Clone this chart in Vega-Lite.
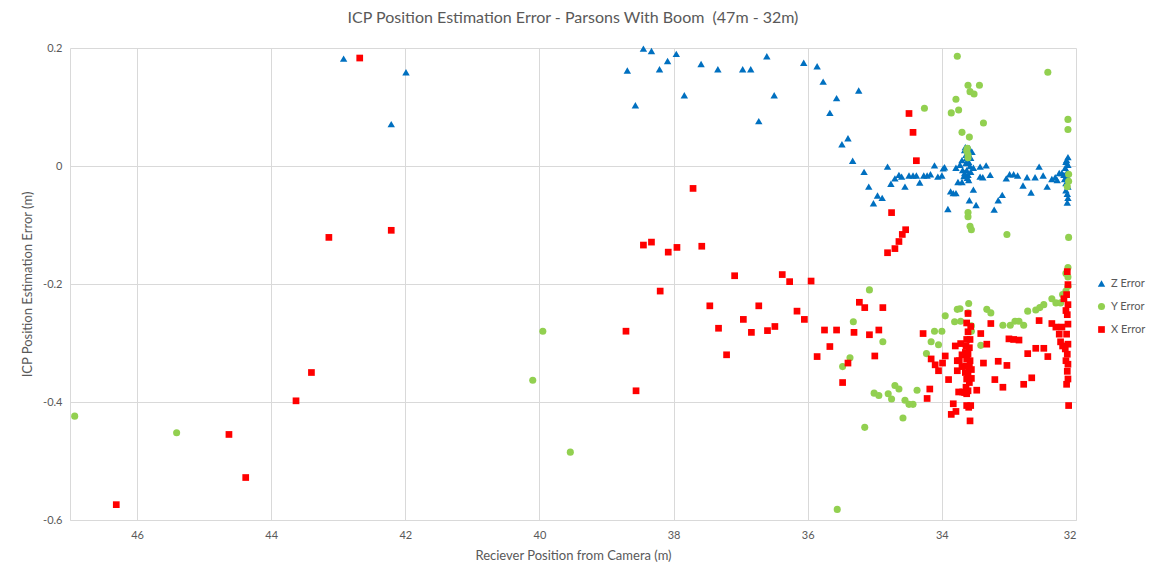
{
"$schema": "https://vega.github.io/schema/vega-lite/v6.json",
"width": 1006, "height": 472,
"autosize": "none",
"padding": {"left": 70, "top": 48, "right": 77, "bottom": 57},
"background": "white",
"config": {"view": {"stroke": null}, "font": "Lato"},
"title": {"text": "ICP Position Estimation Error - Parsons With Boom \u00a0(47m - 32m)", "font": "Lato", "fontSize": 16, "fontWeight": "normal", "color": "#595959", "anchor": "middle", "offset": 16},
"data": {"values": [
{"series":"Z Error","x":42.92,"y":0.182},{"series":"Z Error","x":41.99,"y":0.159},{"series":"Z Error","x":42.21,"y":0.071},
{"series":"Z Error","x":38.69,"y":0.162},{"series":"Z Error","x":38.57,"y":0.103},{"series":"Z Error","x":38.45,"y":0.199},
{"series":"Z Error","x":38.33,"y":0.195},{"series":"Z Error","x":38.21,"y":0.164},{"series":"Z Error","x":38.09,"y":0.178},
{"series":"Z Error","x":37.96,"y":0.19},{"series":"Z Error","x":37.84,"y":0.12},{"series":"Z Error","x":37.59,"y":0.173},
{"series":"Z Error","x":37.34,"y":0.164},{"series":"Z Error","x":36.97,"y":0.164},{"series":"Z Error","x":36.85,"y":0.164},
{"series":"Z Error","x":36.73,"y":0.076},{"series":"Z Error","x":36.61,"y":0.186},{"series":"Z Error","x":36.5,"y":0.12},
{"series":"Z Error","x":36.06,"y":0.175},{"series":"Z Error","x":35.86,"y":0.169},{"series":"Z Error","x":35.77,"y":0.143},
{"series":"Z Error","x":35.57,"y":0.115},{"series":"Z Error","x":35.67,"y":0.09},{"series":"Z Error","x":35.24,"y":0.128},
{"series":"Z Error","x":35.4,"y":0.047},{"series":"Z Error","x":35.49,"y":0.037},{"series":"Z Error","x":35.33,"y":0.009},
{"series":"Z Error","x":35.16,"y":-0.01},{"series":"Z Error","x":35.09,"y":-0.035},{"series":"Z Error","x":34.96,"y":-0.05},
{"series":"Z Error","x":34.89,"y":-0.054},{"series":"Z Error","x":35.02,"y":-0.063},{"series":"Z Error","x":34.81,"y":-0.001},
{"series":"Z Error","x":34.76,"y":-0.03},{"series":"Z Error","x":34.7,"y":-0.021},{"series":"Z Error","x":34.64,"y":-0.015},
{"series":"Z Error","x":34.6,"y":-0.018},{"series":"Z Error","x":34.55,"y":-0.035},{"series":"Z Error","x":34.49,"y":-0.016},
{"series":"Z Error","x":34.43,"y":-0.016},{"series":"Z Error","x":34.38,"y":-0.016},{"series":"Z Error","x":34.33,"y":-0.028},
{"series":"Z Error","x":34.27,"y":-0.016},{"series":"Z Error","x":34.22,"y":-0.016},{"series":"Z Error","x":34.17,"y":-0.014},
{"series":"Z Error","x":34.11,"y":0.001},{"series":"Z Error","x":34.06,"y":-0.018},{"series":"Z Error","x":34.0,"y":-0.016},
{"series":"Z Error","x":33.98,"y":-0.004},{"series":"Z Error","x":33.96,"y":-0.002},{"series":"Z Error","x":33.91,"y":-0.073},
{"series":"Z Error","x":33.87,"y":-0.043},{"series":"Z Error","x":33.83,"y":-0.046},{"series":"Z Error","x":33.79,"y":-0.046},
{"series":"Z Error","x":33.79,"y":-0.003},{"series":"Z Error","x":33.73,"y":0.002},{"series":"Z Error","x":33.7,"y":0.01},
{"series":"Z Error","x":33.69,"y":-0.007},{"series":"Z Error","x":33.67,"y":-0.017},{"series":"Z Error","x":33.66,"y":0.027},
{"series":"Z Error","x":33.64,"y":0.019},{"series":"Z Error","x":33.64,"y":0.005},{"series":"Z Error","x":33.63,"y":0.014},
{"series":"Z Error","x":33.63,"y":-0.007},{"series":"Z Error","x":33.61,"y":0.022},{"series":"Z Error","x":33.61,"y":-0.015},
{"series":"Z Error","x":33.6,"y":0.007},{"series":"Z Error","x":33.6,"y":-0.024},{"series":"Z Error","x":33.58,"y":0.0},
{"series":"Z Error","x":33.57,"y":0.014},{"series":"Z Error","x":33.57,"y":-0.01},{"series":"Z Error","x":33.55,"y":0.024},
{"series":"Z Error","x":33.76,"y":-0.027},{"series":"Z Error","x":33.7,"y":-0.027},{"series":"Z Error","x":33.53,"y":-0.003},
{"series":"Z Error","x":33.65,"y":0.032},{"series":"Z Error","x":33.62,"y":-0.02},{"series":"Z Error","x":33.59,"y":0.03},
{"series":"Z Error","x":33.66,"y":-0.012},{"series":"Z Error","x":33.59,"y":-0.058},{"series":"Z Error","x":33.53,"y":-0.04},
{"series":"Z Error","x":33.49,"y":-0.066},{"series":"Z Error","x":33.43,"y":-0.001},{"series":"Z Error","x":33.43,"y":-0.018},
{"series":"Z Error","x":33.34,"y":0.001},{"series":"Z Error","x":33.39,"y":-0.019},{"series":"Z Error","x":33.28,"y":-0.015},
{"series":"Z Error","x":33.22,"y":-0.074},{"series":"Z Error","x":33.16,"y":-0.058},{"series":"Z Error","x":33.1,"y":-0.049},
{"series":"Z Error","x":33.04,"y":-0.021},{"series":"Z Error","x":32.99,"y":-0.014},{"series":"Z Error","x":32.93,"y":-0.014},
{"series":"Z Error","x":32.87,"y":-0.016},{"series":"Z Error","x":32.79,"y":-0.033},{"series":"Z Error","x":32.73,"y":-0.019},
{"series":"Z Error","x":32.67,"y":-0.045},{"series":"Z Error","x":32.61,"y":-0.019},{"series":"Z Error","x":32.55,"y":-0.001},
{"series":"Z Error","x":32.49,"y":-0.016},{"series":"Z Error","x":32.43,"y":-0.035},{"series":"Z Error","x":32.36,"y":-0.022},
{"series":"Z Error","x":32.31,"y":-0.019},{"series":"Z Error","x":32.25,"y":-0.012},{"series":"Z Error","x":32.12,"y":0.015},
{"series":"Z Error","x":32.15,"y":0.007},{"series":"Z Error","x":32.12,"y":0.002},{"series":"Z Error","x":32.16,"y":-0.003},
{"series":"Z Error","x":32.13,"y":-0.01},{"series":"Z Error","x":32.18,"y":-0.015},{"series":"Z Error","x":32.12,"y":-0.02},
{"series":"Z Error","x":32.15,"y":-0.029},{"series":"Z Error","x":32.12,"y":-0.035},{"series":"Z Error","x":32.15,"y":-0.041},
{"series":"Z Error","x":32.13,"y":-0.047},{"series":"Z Error","x":32.12,"y":-0.054},{"series":"Z Error","x":32.13,"y":-0.062},
{"series":"Z Error","x":32.21,"y":-0.012},{"series":"Z Error","x":32.28,"y":-0.024},{"series":"Z Error","x":32.14,"y":0.01},
{"series":"Z Error","x":32.17,"y":-0.022},
{"series":"Y Error","x":46.93,"y":-0.424},{"series":"Y Error","x":45.41,"y":-0.452},{"series":"Y Error","x":40.1,"y":-0.363},
{"series":"Y Error","x":39.95,"y":-0.28},{"series":"Y Error","x":39.54,"y":-0.485},{"series":"Y Error","x":35.56,"y":-0.582},
{"series":"Y Error","x":35.15,"y":-0.443},{"series":"Y Error","x":35.08,"y":-0.21},{"series":"Y Error","x":35.32,"y":-0.264},
{"series":"Y Error","x":34.88,"y":-0.298},{"series":"Y Error","x":35.37,"y":-0.325},{"series":"Y Error","x":35.48,"y":-0.34},
{"series":"Y Error","x":34.7,"y":-0.372},{"series":"Y Error","x":34.64,"y":-0.378},{"series":"Y Error","x":35.01,"y":-0.385},
{"series":"Y Error","x":34.94,"y":-0.389},{"series":"Y Error","x":34.8,"y":-0.386},{"series":"Y Error","x":34.75,"y":-0.395},
{"series":"Y Error","x":34.55,"y":-0.397},{"series":"Y Error","x":34.49,"y":-0.404},{"series":"Y Error","x":34.43,"y":-0.404},
{"series":"Y Error","x":34.37,"y":-0.38},{"series":"Y Error","x":34.58,"y":-0.427},{"series":"Y Error","x":34.23,"y":-0.318},
{"series":"Y Error","x":34.16,"y":-0.298},{"series":"Y Error","x":34.05,"y":-0.303},{"series":"Y Error","x":34.11,"y":-0.28},
{"series":"Y Error","x":34.0,"y":-0.28},{"series":"Y Error","x":33.95,"y":-0.254},{"series":"Y Error","x":33.81,"y":-0.264},
{"series":"Y Error","x":33.72,"y":-0.263},{"series":"Y Error","x":33.77,"y":-0.243},{"series":"Y Error","x":33.73,"y":-0.242},
{"series":"Y Error","x":33.6,"y":-0.233},{"series":"Y Error","x":33.61,"y":-0.249},{"series":"Y Error","x":33.56,"y":-0.271},
{"series":"Y Error","x":33.56,"y":-0.28},{"series":"Y Error","x":33.42,"y":-0.304},{"series":"Y Error","x":33.33,"y":-0.243},
{"series":"Y Error","x":33.27,"y":-0.249},{"series":"Y Error","x":33.09,"y":-0.27},{"series":"Y Error","x":32.98,"y":-0.27},
{"series":"Y Error","x":32.91,"y":-0.263},{"series":"Y Error","x":32.85,"y":-0.263},{"series":"Y Error","x":32.78,"y":-0.27},
{"series":"Y Error","x":32.72,"y":-0.246},{"series":"Y Error","x":32.6,"y":-0.244},{"series":"Y Error","x":32.54,"y":-0.24},
{"series":"Y Error","x":32.48,"y":-0.235},{"series":"Y Error","x":32.36,"y":-0.225},{"series":"Y Error","x":32.3,"y":-0.232},
{"series":"Y Error","x":32.23,"y":-0.232},{"series":"Y Error","x":32.2,"y":-0.218},{"series":"Y Error","x":32.15,"y":-0.212},
{"series":"Y Error","x":32.12,"y":-0.172},{"series":"Y Error","x":32.12,"y":-0.188},{"series":"Y Error","x":32.12,"y":-0.204},
{"series":"Y Error","x":32.15,"y":-0.182},{"series":"Y Error","x":33.77,"y":0.186},{"series":"Y Error","x":32.42,"y":0.159},
{"series":"Y Error","x":33.61,"y":0.137},{"series":"Y Error","x":33.44,"y":0.137},{"series":"Y Error","x":33.58,"y":0.126},
{"series":"Y Error","x":33.52,"y":0.122},{"series":"Y Error","x":33.79,"y":0.113},{"series":"Y Error","x":33.86,"y":0.09},
{"series":"Y Error","x":33.75,"y":0.095},{"series":"Y Error","x":34.26,"y":0.098},{"series":"Y Error","x":33.38,"y":0.073},
{"series":"Y Error","x":33.7,"y":0.057},{"series":"Y Error","x":33.59,"y":0.049},{"series":"Y Error","x":32.12,"y":0.079},
{"series":"Y Error","x":32.12,"y":0.062},{"series":"Y Error","x":33.63,"y":0.026},{"series":"Y Error","x":33.61,"y":0.019},
{"series":"Y Error","x":33.61,"y":0.014},{"series":"Y Error","x":33.62,"y":0.03},{"series":"Y Error","x":32.11,"y":-0.014},
{"series":"Y Error","x":32.11,"y":-0.026},{"series":"Y Error","x":32.13,"y":-0.035},{"series":"Y Error","x":33.61,"y":-0.079},
{"series":"Y Error","x":33.61,"y":-0.086},{"series":"Y Error","x":33.58,"y":-0.102},{"series":"Y Error","x":33.56,"y":-0.108},
{"series":"Y Error","x":33.03,"y":-0.116},{"series":"Y Error","x":32.11,"y":-0.121},
{"series":"X Error","x":46.31,"y":-0.574},{"series":"X Error","x":44.63,"y":-0.455},{"series":"X Error","x":44.38,"y":-0.528},
{"series":"X Error","x":43.63,"y":-0.398},{"series":"X Error","x":43.4,"y":-0.35},{"series":"X Error","x":43.14,"y":-0.121},
{"series":"X Error","x":42.21,"y":-0.109},{"series":"X Error","x":42.68,"y":0.183},{"series":"X Error","x":38.71,"y":-0.28},
{"series":"X Error","x":38.56,"y":-0.381},{"series":"X Error","x":38.45,"y":-0.134},{"series":"X Error","x":38.33,"y":-0.129},
{"series":"X Error","x":38.08,"y":-0.146},{"series":"X Error","x":37.95,"y":-0.138},{"series":"X Error","x":37.58,"y":-0.136},
{"series":"X Error","x":38.2,"y":-0.212},{"series":"X Error","x":37.71,"y":-0.038},{"series":"X Error","x":37.09,"y":-0.186},
{"series":"X Error","x":36.38,"y":-0.184},{"series":"X Error","x":36.27,"y":-0.196},{"series":"X Error","x":35.95,"y":-0.195},
{"series":"X Error","x":37.46,"y":-0.237},{"series":"X Error","x":36.73,"y":-0.237},{"series":"X Error","x":36.16,"y":-0.246},
{"series":"X Error","x":36.05,"y":-0.26},{"series":"X Error","x":36.96,"y":-0.26},{"series":"X Error","x":37.33,"y":-0.275},
{"series":"X Error","x":36.84,"y":-0.282},{"series":"X Error","x":36.6,"y":-0.279},{"series":"X Error","x":36.49,"y":-0.272},
{"series":"X Error","x":35.75,"y":-0.278},{"series":"X Error","x":35.57,"y":-0.278},{"series":"X Error","x":35.67,"y":-0.306},
{"series":"X Error","x":35.86,"y":-0.323},{"series":"X Error","x":37.21,"y":-0.32},{"series":"X Error","x":34.49,"y":0.089},
{"series":"X Error","x":34.43,"y":0.057},{"series":"X Error","x":34.38,"y":0.009},{"series":"X Error","x":34.75,"y":-0.079},
{"series":"X Error","x":34.54,"y":-0.108},{"series":"X Error","x":34.59,"y":-0.116},{"series":"X Error","x":34.64,"y":-0.128},
{"series":"X Error","x":34.7,"y":-0.14},{"series":"X Error","x":34.81,"y":-0.147},{"series":"X Error","x":35.23,"y":-0.231},
{"series":"X Error","x":35.15,"y":-0.24},{"series":"X Error","x":34.88,"y":-0.24},{"series":"X Error","x":35.31,"y":-0.282},
{"series":"X Error","x":35.08,"y":-0.286},{"series":"X Error","x":34.94,"y":-0.278},{"series":"X Error","x":35.0,"y":-0.322},
{"series":"X Error","x":35.4,"y":-0.334},{"series":"X Error","x":35.48,"y":-0.367},{"series":"X Error","x":34.28,"y":-0.284},
{"series":"X Error","x":34.18,"y":-0.378},{"series":"X Error","x":34.22,"y":-0.394},{"series":"X Error","x":34.16,"y":-0.327},
{"series":"X Error","x":34.1,"y":-0.337},{"series":"X Error","x":34.05,"y":-0.347},{"series":"X Error","x":33.99,"y":-0.334},
{"series":"X Error","x":33.95,"y":-0.322},{"series":"X Error","x":33.9,"y":-0.362},{"series":"X Error","x":33.83,"y":-0.403},
{"series":"X Error","x":33.79,"y":-0.416},{"series":"X Error","x":33.86,"y":-0.421},{"series":"X Error","x":33.8,"y":-0.305},
{"series":"X Error","x":33.72,"y":-0.301},{"series":"X Error","x":33.77,"y":-0.347},{"series":"X Error","x":33.77,"y":-0.33},
{"series":"X Error","x":33.75,"y":-0.383},{"series":"X Error","x":33.69,"y":-0.383},{"series":"X Error","x":33.74,"y":-0.33},
{"series":"X Error","x":33.7,"y":-0.32},{"series":"X Error","x":33.7,"y":-0.34},{"series":"X Error","x":33.61,"y":-0.25},
{"series":"X Error","x":33.63,"y":-0.266},{"series":"X Error","x":33.61,"y":-0.281},{"series":"X Error","x":33.63,"y":-0.294},
{"series":"X Error","x":33.58,"y":-0.294},{"series":"X Error","x":33.64,"y":-0.305},{"series":"X Error","x":33.59,"y":-0.308},
{"series":"X Error","x":33.65,"y":-0.316},{"series":"X Error","x":33.61,"y":-0.319},{"series":"X Error","x":33.63,"y":-0.327},
{"series":"X Error","x":33.58,"y":-0.33},{"series":"X Error","x":33.64,"y":-0.339},{"series":"X Error","x":33.59,"y":-0.341},
{"series":"X Error","x":33.65,"y":-0.35},{"series":"X Error","x":33.61,"y":-0.353},{"series":"X Error","x":33.63,"y":-0.361},
{"series":"X Error","x":33.59,"y":-0.367},{"series":"X Error","x":33.64,"y":-0.375},{"series":"X Error","x":33.61,"y":-0.381},
{"series":"X Error","x":33.66,"y":-0.384},{"series":"X Error","x":33.63,"y":-0.386},{"series":"X Error","x":33.57,"y":-0.272},
{"series":"X Error","x":33.56,"y":-0.345},{"series":"X Error","x":33.56,"y":-0.36},{"series":"X Error","x":33.63,"y":-0.406},
{"series":"X Error","x":33.57,"y":-0.406},{"series":"X Error","x":33.6,"y":-0.409},{"series":"X Error","x":33.58,"y":-0.432},
{"series":"X Error","x":33.48,"y":-0.38},{"series":"X Error","x":33.42,"y":-0.284},{"series":"X Error","x":33.38,"y":-0.334},
{"series":"X Error","x":33.33,"y":-0.302},{"series":"X Error","x":33.27,"y":-0.267},{"series":"X Error","x":33.21,"y":-0.362},
{"series":"X Error","x":33.16,"y":-0.331},{"series":"X Error","x":33.09,"y":-0.375},{"series":"X Error","x":33.03,"y":-0.338},
{"series":"X Error","x":33.0,"y":-0.293},{"series":"X Error","x":32.93,"y":-0.294},{"series":"X Error","x":32.85,"y":-0.295},
{"series":"X Error","x":32.78,"y":-0.37},{"series":"X Error","x":32.72,"y":-0.318},{"series":"X Error","x":32.66,"y":-0.359},
{"series":"X Error","x":32.6,"y":-0.309},{"series":"X Error","x":32.55,"y":-0.262},{"series":"X Error","x":32.48,"y":-0.309},
{"series":"X Error","x":32.42,"y":-0.323},{"series":"X Error","x":32.36,"y":-0.267},{"series":"X Error","x":32.3,"y":-0.273},
{"series":"X Error","x":32.25,"y":-0.285},{"series":"X Error","x":32.23,"y":-0.298},{"series":"X Error","x":32.2,"y":-0.305},
{"series":"X Error","x":32.13,"y":-0.179},{"series":"X Error","x":32.12,"y":-0.201},{"series":"X Error","x":32.14,"y":-0.218},
{"series":"X Error","x":32.12,"y":-0.235},{"series":"X Error","x":32.13,"y":-0.252},{"series":"X Error","x":32.12,"y":-0.268},
{"series":"X Error","x":32.14,"y":-0.285},{"series":"X Error","x":32.12,"y":-0.302},{"series":"X Error","x":32.13,"y":-0.319},
{"series":"X Error","x":32.12,"y":-0.336},{"series":"X Error","x":32.13,"y":-0.348},{"series":"X Error","x":32.12,"y":-0.361},
{"series":"X Error","x":32.18,"y":-0.225},{"series":"X Error","x":32.21,"y":-0.273},{"series":"X Error","x":32.16,"y":-0.31},
{"series":"X Error","x":32.15,"y":-0.245},{"series":"X Error","x":32.15,"y":-0.33},{"series":"X Error","x":32.14,"y":-0.37},
{"series":"X Error","x":32.11,"y":-0.406}
]},
"mark": {"type": "point", "filled": true, "opacity": 1},
"encoding": {
  "x": {"field": "x", "type": "quantitative",
        "scale": {"domain": [32, 47], "reverse": true, "nice": false, "zero": false},
        "axis": {"values": [32, 34, 36, 38, 40, 42, 44, 46], "title": "Reciever Position from Camera (m)",
                 "grid": true, "gridColor": "#D9D9D9", "domainColor": "#D9D9D9", "ticks": false,
                 "labelColor": "#595959", "labelFontSize": 11, "labelPadding": 9, "labelFont": "Lato",
                 "titleColor": "#595959", "titleFontSize": 13, "titleFontWeight": "normal", "titleFont": "Lato", "titlePadding": 9}},
  "y": {"field": "y", "type": "quantitative",
        "scale": {"domain": [-0.6, 0.2], "nice": false, "zero": false},
        "axis": {"values": [-0.6, -0.4, -0.2, 0, 0.2], "labelExpr": "'' + round(datum.value * 10) / 10",
                 "title": "ICP Position Estimation Error (m)",
                 "grid": true, "gridColor": "#D9D9D9", "domainColor": "#D9D9D9", "ticks": false,
                 "labelColor": "#595959", "labelFontSize": 11, "labelPadding": 8, "labelFont": "Lato",
                 "titleColor": "#595959", "titleFontSize": 13, "titleFontWeight": "normal", "titleFont": "Lato", "titlePadding": 8}},
  "color": {"field": "series", "type": "nominal",
            "scale": {"domain": ["Z Error", "Y Error", "X Error"], "range": ["#0070C0", "#92D050", "#FF0000"]},
            "legend": {"title": null, "orient": "none", "legendX": 1026, "legendY": 230,
                       "labelColor": "#595959", "labelFontSize": 11, "labelFont": "Lato", "symbolSize": 50,
                       "rowPadding": 11, "labelOffset": 4}},
  "shape": {"field": "series", "type": "nominal",
            "scale": {"domain": ["Z Error", "Y Error", "X Error"], "range": ["triangle-up", "circle", "square"]}},
  "size": {"field": "series", "type": "nominal",
           "scale": {"domain": ["Z Error", "Y Error", "X Error"], "range": [55, 45, 60]}, "legend": null}
}
}
